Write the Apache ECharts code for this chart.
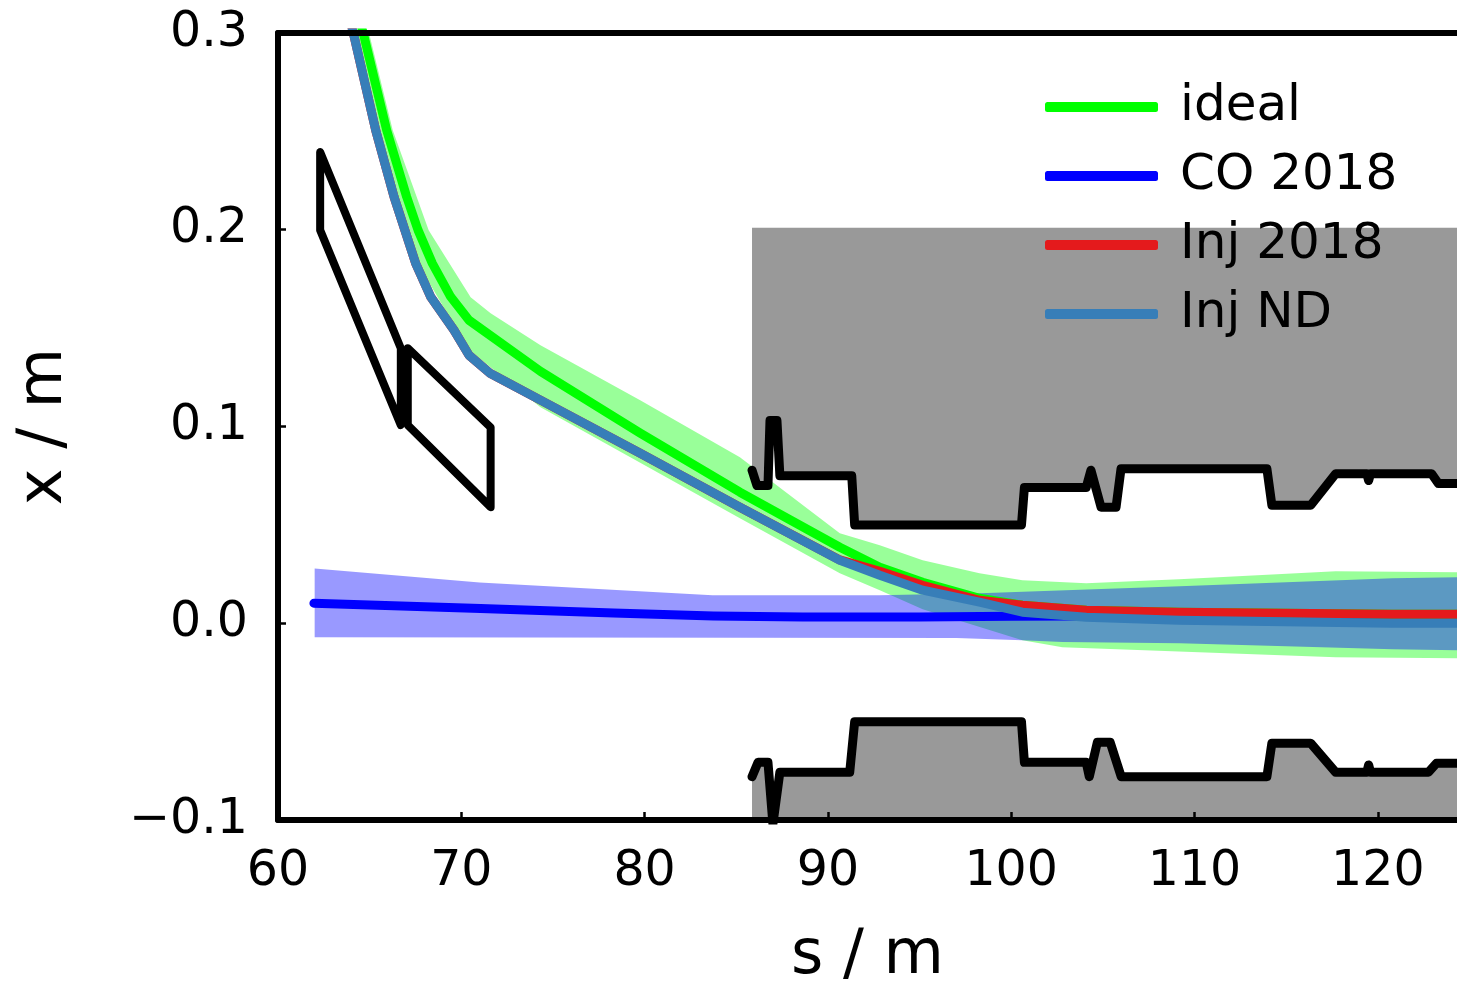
<!DOCTYPE html>
<html><head><meta charset="utf-8">
<script src="https://cdn.jsdelivr.net/npm/echarts@6/dist/echarts.min.js"></script>
<style>html,body{margin:0;padding:0;background:#fff}#c{width:1457px;height:984px}</style>
</head><body><div id="c"></div>
<script>
// ---- tick labels ----
const xTickLabels = [60, 70, 80, 90, 100, 110, 120];
const yTickLabels = [-0.1, 0.0, 0.1, 0.2, 0.3];
const sMin = 60, sMax = 124.32;

// ---- series: [s (m), x (m)] ----
const ideal = [[64.41,0.3081],[64.70,0.2981],[65.93,0.2506],[67.02,0.2167],[67.64,0.1998],[68.42,0.1829],[69.42,0.1659],[70.42,0.1540],[74.32,0.1280],[79.76,0.0966],[85.20,0.0666],[90.65,0.0386],[92.83,0.0285],[95.17,0.0208],[98.27,0.0127],[100.61,0.0092],[104.10,0.0066],[109.15,0.0056],[120.75,0.0046],[124.40,0.0046]];
const co2018 = [[61.96,0.0102],[71.05,0.0075],[78.30,0.0052],[83.75,0.0037],[88.62,0.0032],[95.00,0.0032],[100.00,0.0035],[110.00,0.0040],[124.40,0.0045]];
const inj2018 = [[63.90,0.3081],[64.16,0.2980],[65.33,0.2506],[66.33,0.2167],[67.51,0.1829],[68.33,0.1659],[69.60,0.1490],[70.42,0.1362],[71.59,0.1269],[74.32,0.1134],[79.76,0.0864],[85.20,0.0590],[90.65,0.0322],[92.83,0.0264],[95.17,0.0193],[98.27,0.0117],[100.61,0.0092],[104.10,0.0066],[109.15,0.0056],[120.75,0.0046],[124.40,0.0046]];
const injND = [[63.90,0.3081],[64.16,0.2980],[65.33,0.2506],[66.33,0.2167],[67.51,0.1829],[68.33,0.1659],[69.60,0.1490],[70.42,0.1362],[71.59,0.1269],[74.32,0.1134],[79.76,0.0864],[85.20,0.0590],[90.65,0.0320],[92.83,0.0244],[95.17,0.0168],[98.27,0.0107],[100.61,0.0056],[104.10,0.0030],[109.15,0.0015],[120.75,0.0000],[124.40,0.0000]];

// ---- bands (upper / lower edges) ----
const idealBandUpper = [[64.74,0.3086],[66.26,0.2506],[68.22,0.1998],[70.51,0.1657],[71.60,0.1576],[74.32,0.1413],[79.76,0.1134],[85.20,0.0844],[90.65,0.0458],[92.83,0.0397],[95.17,0.0320],[98.27,0.0254],[100.61,0.0219],[104.09,0.0203],[109.16,0.0224],[117.70,0.0264],[124.40,0.0259]];
const idealBandLower = [[64.25,0.3000],[65.44,0.2506],[67.62,0.1830],[70.40,0.1390],[74.32,0.1098],[85.20,0.0534],[90.65,0.0254],[92.83,0.0168],[95.17,0.0071],[100.61,-0.0086],[102.79,-0.0122],[117.70,-0.0173],[124.40,-0.0178]];
const coBandUpper = [[62.00,0.0278],[71.00,0.0207],[83.70,0.0142],[92.80,0.0142],[98.30,0.0153],[109.20,0.0188],[120.80,0.0229],[124.40,0.0234]];
const coBandLower = [[62.00,-0.0071],[97.00,-0.0075],[100.60,-0.0086],[102.80,-0.0095],[109.20,-0.0102],[120.80,-0.0132],[124.40,-0.0137]];

// ---- aperture ----
const apertureUpper = [[85.86,0.0778],[86.13,0.0700],[86.73,0.0700],[86.84,0.1030],[87.22,0.1030],[87.38,0.0750],[91.30,0.0750],[91.46,0.0500],[100.56,0.0500],[100.72,0.0690],[104.09,0.0690],[104.35,0.0778],[104.90,0.0590],[105.72,0.0590],[105.99,0.0785],[113.95,0.0785],[114.22,0.0600],[116.34,0.0600],[117.70,0.0760],[119.40,0.0760],[119.50,0.0725],[119.60,0.0760],[122.93,0.0760],[123.31,0.0710],[124.40,0.0710]];
const apertureLower = [[85.86,-0.0780],[86.19,-0.0707],[86.73,-0.0707],[87.00,-0.1020],[87.38,-0.0757],[91.19,-0.0757],[91.46,-0.0500],[100.56,-0.0500],[100.72,-0.0707],[104.09,-0.0707],[104.26,-0.0780],[104.70,-0.0605],[105.40,-0.0605],[106.00,-0.0780],[113.95,-0.0780],[114.22,-0.0610],[116.34,-0.0610],[117.70,-0.0757],[119.40,-0.0757],[119.50,-0.0720],[119.60,-0.0757],[122.76,-0.0757],[123.20,-0.0712],[124.40,-0.0712]];
const apertureTop = 0.201, apertureBottom = -0.1;
const apertureStart = 85.86, apertureEnd = 124.40;

// ---- septum outlines ----
const septumA = [[62.30,0.2395],[62.30,0.1998],[66.70,0.1007],[66.70,0.1398]];
const septumB = [[67.08,0.1398],[71.60,0.0996],[71.60,0.0590],[67.08,0.1007]];

const FONT = 'DejaVu Sans';

function polySeries(pts, style) {
  return {
    type: 'custom', clip: true, silent: true,
    data: pts, encode: {x: 0, y: 1},
    renderItem: function (params, api) {
      if (params.dataIndex !== 0) return null;
      return {type: 'polygon', shape: {points: pts.map(p => api.coord(p))}, style: style};
    }
  };
}
function lineSeries(name, data, color, width) {
  return {
    name: name, type: 'line', data: data, showSymbol: false, symbol: 'none', clip: true,
    itemStyle: {color: color},
    lineStyle: {color: color, width: width, cap: 'round', join: 'round'},
    emphasis: {disabled: true}
  };
}

const greenBandPoly = idealBandUpper.concat(idealBandLower.slice().reverse());
const coBandPoly = coBandUpper.concat(coBandLower.slice().reverse());
const grayTopPoly = apertureUpper.concat([[apertureEnd, apertureTop],[apertureStart, apertureTop]]);
const grayBotPoly = apertureLower.concat([[apertureEnd, apertureBottom - 0.01],[apertureStart, apertureBottom - 0.01]]);

const series = [
  polySeries(greenBandPoly, {fill: 'rgba(0,255,0,0.4)'}),
  polySeries(coBandPoly, {fill: 'rgba(0,0,255,0.4)'}),
  polySeries(grayTopPoly, {fill: '#999999'}),
  polySeries(grayBotPoly, {fill: '#999999'}),
  lineSeries(undefined, apertureUpper, '#000000', 9),
  lineSeries(undefined, apertureLower, '#000000', 9),
  polySeries(septumA, {fill: 'none', stroke: '#000', lineWidth: 8, lineJoin: 'round'}),
  polySeries(septumB, {fill: 'none', stroke: '#000', lineWidth: 8, lineJoin: 'round'}),
  lineSeries('CO 2018', co2018, '#0000ff', 9),
  lineSeries('ideal', ideal, '#00ff00', 9),
  lineSeries('Inj 2018', inj2018, '#e41a1c', 9),
  lineSeries('Inj ND', injND, '#377eb8', 9)
];

const fmt = v => {
  if (Math.abs(v) < 1e-9) v = 0;
  return v.toFixed(1).replace('-', '\u2212');
};

const chart = echarts.init(document.getElementById('c'), null, {renderer: 'canvas'});
chart.setOption({
  animation: false,
  backgroundColor: '#ffffff',
  textStyle: {fontFamily: FONT},
  grid: {left: 278, right: 0, top: 33, bottom: 164, containLabel: false, outerBoundsMode: 'none'},
  legend: {
    data: ['ideal', 'CO 2018', 'Inj 2018', 'Inj ND'],
    orient: 'vertical', left: 1045, top: 79, padding: 0,
    icon: 'roundRect', itemWidth: 113, itemHeight: 10, itemGap: 13,
    selectedMode: false,
    textStyle: {fontFamily: FONT, fontSize: 50, color: '#000', lineHeight: 56, padding: [0, 0, 0, 17]}
  },
  xAxis: [{
    type: 'value', min: sMin, max: sMax, interval: 10, z: 10,
    name: 's / m', nameLocation: 'middle', nameGap: 106,
    nameTextStyle: {fontFamily: FONT, fontSize: 62, color: '#000'},
    axisLine: {show: true, onZero: false, lineStyle: {color: '#000', width: 6}},
    axisTick: {show: true, inside: true, length: 8, lineStyle: {color: '#000', width: 2.5}},
    axisLabel: {show: true, margin: 28, fontFamily: FONT, fontSize: 49, color: '#000', showMaxLabel: false,
      formatter: v => xTickLabels.includes(Math.round(v)) ? String(Math.round(v)) : ''},
    splitLine: {show: false}
  }, {
    type: 'value', position: 'top', min: sMin, max: sMax, z: 10,
    axisLine: {show: true, onZero: false, lineStyle: {color: '#000', width: 6}},
    axisTick: {show: false}, axisLabel: {show: false}, splitLine: {show: false}
  }],
  yAxis: {
    type: 'value', min: yTickLabels[0], max: yTickLabels[yTickLabels.length - 1], interval: 0.1, z: 10,
    name: 'x / m', nameLocation: 'middle', nameGap: 202, nameRotate: 90,
    nameTextStyle: {fontFamily: FONT, fontSize: 62, color: '#000'},
    axisLine: {show: true, onZero: false, lineStyle: {color: '#000', width: 6}},
    axisTick: {show: true, inside: true, length: 8, lineStyle: {color: '#000', width: 2.5}},
    axisLabel: {show: true, margin: 30, fontFamily: FONT, fontSize: 49, color: '#000', formatter: fmt},
    splitLine: {show: false}
  },
  series: series
});
</script>
</body></html>
